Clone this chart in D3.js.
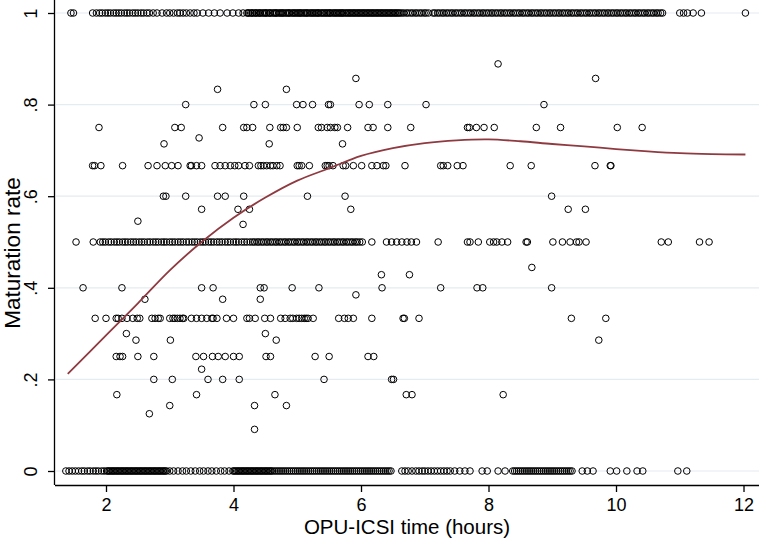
<!DOCTYPE html>
<html>
<head>
<meta charset="utf-8">
<script src="https://cdn.jsdelivr.net/npm/d3@7"></script>
<style>
  html, body { margin: 0; padding: 0; background: #fff; }
  svg { display: block; }
  text { font-family: "Liberation Sans", Arial, Helvetica, sans-serif; fill: #000; }
</style>
</head>
<body>
<svg id="chart" width="759" height="538"></svg>
<script>
// ---- Data: OPU-ICSI time (hours) grouped by observed maturation rate ----
const t100 = [1.45,1.49,1.79,1.85,1.90,1.94,1.99,2.03,2.07,2.12,2.16,2.20,2.24,2.29,2.33,2.37,2.42,2.46,2.50,2.55,2.59,2.64,2.68,
  2.74,2.80,2.88,2.95,3.00,3.06,3.12,3.16,3.21,3.26,3.32,3.38,3.43,3.52,3.61,3.70,3.79,3.90,3.99,4.08,4.15,
  4.21,4.23,4.24,4.27,4.29,4.30,4.33,4.35,4.36,4.39,4.41,4.42,4.45,4.47,4.49,4.51,4.52,4.55,4.57,4.58,4.61,4.63,4.65,4.67,4.68,4.71,
  4.73,4.75,4.77,4.78,4.81,4.83,4.85,4.87,4.88,4.91,4.93,4.95,4.97,4.99,5.01,5.03,5.05,5.06,5.09,5.11,5.13,5.15,5.16,5.19,5.21,5.23,
  5.25,5.27,5.29,5.31,5.33,5.34,5.37,5.39,5.41,5.43,5.45,5.47,5.49,5.51,5.52,5.55,5.57,5.59,5.61,5.63,5.65,5.67,5.69,5.71,5.72,5.75,
  5.77,5.79,5.81,5.83,5.85,5.87,5.89,5.91,5.93,5.95,5.97,5.99,6.01,6.03,6.05,6.07,6.09,6.11,6.13,6.15,6.17,6.19,6.21,6.23,6.25,6.27,
  6.29,6.31,6.33,6.35,6.37,6.39,6.41,6.43,6.45,6.47,6.49,6.51,6.53,6.55,6.57,6.59,6.61,
  6.64,6.67,6.71,6.74,6.78,6.81,6.85,6.88,6.92,6.95,6.99,7.02,7.06,7.13,7.16,7.20,7.23,7.27,7.30,7.34,7.37,7.41,7.44,7.48,7.51,7.55,
  7.58,7.62,7.65,7.69,7.72,7.76,7.79,7.83,7.86,7.90,7.93,7.97,8.00,8.04,8.07,8.11,8.14,8.18,8.21,8.25,8.28,8.32,8.35,8.39,8.42,8.46,
  8.49,8.53,8.56,8.60,8.63,8.67,8.70,8.74,8.77,8.81,8.84,8.88,8.91,8.95,8.98,9.02,9.05,9.09,9.12,9.16,9.19,9.23,9.26,9.30,9.33,9.37,
  9.40,9.44,9.47,9.51,9.54,9.58,9.61,9.65,9.68,9.72,9.75,9.79,9.82,9.86,9.89,9.93,9.96,10.00,10.03,10.07,10.10,10.14,10.17,10.21,
  10.24,10.28,10.31,10.35,10.38,10.42,10.45,10.49,10.52,10.56,10.59,10.63,10.66,10.70,10.73,
  11.00,11.06,11.12,11.21,11.34,12.03];
const t089 = [8.15];
const t086 = [5.92, 9.68];
const t083 = [3.75, 4.83];
const t080 = [3.25,4.32,4.50,4.99,5.09,5.24,5.49,5.52,5.97,6.13,6.42,7.02,8.87];
const t075 = [1.89,3.08,3.18,3.83,4.16,4.21,4.30,4.57,4.74,4.78,4.83,5.00,5.33,5.38,5.47,5.52,5.59,5.63,5.79,6.11,6.19,6.42,6.78,
  7.67,7.70,7.81,7.93,8.09,8.75,9.13,10.02,10.41];
const t073 = [3.46];
const t071 = [2.91, 4.56, 5.71];
const t067 = [1.79,1.82,1.92,2.26,2.66,2.80,2.93,3.03,3.13,3.32,3.34,3.42,3.50,3.71,3.79,3.87,3.95,4.02,4.08,4.18,4.25,4.39,4.43,
  4.47,4.52,4.58,4.62,4.68,4.73,5.00,5.03,5.07,5.19,5.44,5.47,5.50,5.56,5.72,5.76,5.88,6.01,6.17,6.25,6.35,6.39,6.69,
  7.25,7.29,7.36,7.51,7.60,8.34,8.67,9.67,9.91,9.92];
const t060 = [2.90,2.94,3.25,3.75,3.87,4.16,5.16,5.75,8.99];
const t057 = [3.50,4.07,4.25,5.84,9.25,9.52];
const t055 = [2.50];
const t054 = [4.15];
const t050 = [1.53,1.80,1.91,1.95,1.99,2.04,2.08,2.13,2.17,2.21,2.26,2.30,2.34,2.39,2.43,2.47,2.52,2.56,2.60,2.65,2.69,2.74,2.78,
  2.82,2.87,2.91,2.95,3.00,3.04,3.08,3.13,3.17,3.21,3.26,3.30,3.35,3.39,3.43,3.48,3.52,3.56,3.61,3.65,3.69,3.74,3.78,3.82,3.87,3.91,
  3.95,4.00,4.04,4.08,4.13,4.17,4.21,4.26,4.30,4.33,4.37,4.40,4.44,4.47,4.51,4.54,4.58,4.61,4.65,4.68,4.72,4.75,4.79,4.82,4.86,4.89,
  4.93,4.96,5.00,5.03,5.07,5.10,5.14,5.17,5.21,5.24,5.28,5.31,5.35,5.38,5.42,5.45,5.49,5.52,5.56,5.59,5.63,5.66,5.70,5.73,5.77,5.80,
  5.84,5.87,5.91,5.94,5.98,6.02,6.17,6.40,6.48,6.56,6.64,6.72,6.79,6.87,7.21,7.67,7.71,7.84,8.02,8.08,8.13,8.21,8.30,8.59,8.61,
  9.01,9.16,9.28,9.38,9.42,9.53,10.71,10.82,11.31,11.46];
const t044 = [8.68];
const t043 = [6.32, 6.76];
const t040 = [1.64,2.25,3.50,3.68,4.42,4.48,4.92,5.34,6.33,7.25,7.82,7.91,8.99];
const t038b = [5.92];
const t038 = [2.61, 3.83, 4.42];
const t033 = [1.83,2.00,2.16,2.19,2.25,2.33,2.42,2.49,2.53,2.72,2.77,2.82,2.85,3.00,3.05,3.08,3.12,3.16,3.20,3.22,3.34,3.42,3.50,
  3.58,3.66,3.68,3.74,3.89,4.00,4.21,4.25,4.34,4.49,4.58,4.74,4.81,4.89,4.93,4.99,5.03,5.07,5.11,5.14,5.17,5.25,5.65,5.74,5.80,
  5.88,6.17,6.66,6.68,6.91,9.30,9.84];
const t030 = [2.32, 4.50];
const t029 = [2.47, 3.01, 4.67, 9.73];
const t025 = [2.16,2.22,2.26,2.50,2.75,3.41,3.53,3.67,3.76,3.87,4.00,4.09,4.51,4.58,5.28,5.50,6.11,6.20];
const t022 = [3.50];
const t020 = [2.75,3.04,3.60,3.83,4.09,5.42,6.48,6.51];
const t017 = [2.17,3.42,4.65,6.71,6.80,8.23];
const t014 = [3.00,4.33,4.83];
const t013 = [2.68];
const t009 = [4.33];
const t000 = [1.37,1.42,1.47,1.52,1.57,1.62,1.66,1.71,1.75,1.80,1.84,1.88,1.93,1.97,2.01,
  2.03,2.05,2.07,2.09,2.11,2.13,2.15,2.17,2.19,2.21,2.23,2.25,2.27,2.29,2.31,2.33,2.35,2.37,2.39,2.41,2.43,2.45,2.47,2.49,2.51,2.53,
  2.55,2.57,2.59,2.61,2.63,2.65,2.67,2.69,2.71,2.73,2.75,2.77,2.79,2.81,2.83,2.85,2.87,2.89,2.91,2.93,2.95,
  3.00,3.06,3.13,3.20,3.26,3.33,3.40,3.47,3.53,3.60,3.66,3.73,3.80,3.86,3.93,
  3.99,4.01,4.03,4.05,4.07,4.09,4.11,4.13,4.15,4.17,4.19,4.21,4.23,4.25,4.27,4.29,4.31,4.33,4.35,4.37,4.39,4.41,4.43,4.45,4.47,4.49,
  4.51,4.53,4.55,4.57,4.59,4.61,
  4.64,4.67,4.70,4.73,4.76,4.79,4.82,4.85,4.88,4.91,4.94,4.97,5.00,5.03,5.06,5.09,5.12,5.15,5.18,5.21,5.24,5.27,5.30,5.33,5.36,5.39,
  5.42,5.45,5.48,5.51,5.54,5.57,5.60,5.63,5.66,5.69,5.72,5.75,5.78,5.81,5.84,5.87,5.90,5.93,5.96,5.99,6.02,6.05,6.08,6.11,6.14,6.17,
  6.20,6.23,6.26,6.29,6.32,6.35,6.38,6.41,6.44,6.47,
  6.64,6.69,6.74,6.80,6.86,6.91,6.96,7.00,7.05,7.10,7.15,7.20,7.25,7.30,7.35,7.40,7.47,7.55,7.63,7.71,7.90,7.98,8.15,8.26,
  8.38,8.41,8.44,8.47,8.50,8.53,8.56,8.59,8.62,8.65,8.68,8.71,8.74,8.77,8.80,8.83,8.86,8.89,8.92,8.95,8.98,9.01,9.04,9.07,9.10,9.13,
  9.16,9.19,9.22,9.25,9.28,9.31,
  9.47,9.55,9.64,9.91,10.01,10.17,10.33,10.42,10.97,11.11];

const rateLevels = [1, 8/9, 6/7, 5/6, 0.8, 0.75, 8/11, 5/7, 2/3, 0.6, 4/7, 6/11, 7/13, 0.5, 4/9, 3/7, 0.4, 5/13, 3/8,
  1/3, 0.3, 2/7, 0.25, 2/9, 0.2, 1/6, 1/7, 1/8, 1/11, 0];
const timeGroups = [t100, t089, t086, t083, t080, t075, t073, t071, t067, t060, t057, t055, t054, t050, t044, t043, t040, t038b, t038,
  t033, t030, t029, t025, t022, t020, t017, t014, t013, t009, t000];

// Lowess smoother
const lowessX = [1.40, 2.0, 2.5, 3.0, 3.5, 4.0, 4.5, 5.0, 5.5, 6.0, 6.5, 7.0, 7.5, 8.0, 8.5, 9.0, 9.5, 10.0, 10.5, 11.0, 11.5, 12.03];
const lowessY = [0.212, 0.296, 0.366, 0.438, 0.500, 0.553, 0.597, 0.634, 0.661, 0.688, 0.705, 0.716, 0.722, 0.724, 0.720, 0.714, 0.709, 0.703, 0.698, 0.694, 0.692, 0.691];

const xTicks = [2, 4, 6, 8, 10, 12];
const yTicks = [0, 0.2, 0.4, 0.6, 0.8, 1];
const yTickLabels = ["0", ".2", ".4", ".6", ".8", "1"];
const xTitle = "OPU-ICSI time (hours)";
const yTitle = "Maturation rate";

// ---- Build ----
const points = [];
rateLevels.forEach((r, i) => timeGroups[i].forEach(t => points.push({ t, r })));

const svg = d3.select("#chart");
const plotLeft = 55, plotRight = 759, plotTop = 0, plotBottom = 485;

const x = d3.scaleLinear().domain([1.2, 12.243]).range([plotLeft, plotRight]);
const y = d3.scaleLinear().domain([0, 1]).range([471, 13]);

// grid lines
svg.append("g")
  .selectAll("line")
  .data(yTicks)
  .join("line")
  .attr("x1", plotLeft + 1).attr("x2", plotRight)
  .attr("y1", d => y(d)).attr("y2", d => y(d))
  .attr("stroke", "#e4ecef").attr("stroke-width", 1.2);

// points
svg.append("g")
  .selectAll("circle")
  .data(points)
  .join("circle")
  .attr("cx", d => x(d.t))
  .attr("cy", d => y(d.r))
  .attr("r", 3.3)
  .attr("fill", "none")
  .attr("stroke", "#000")
  .attr("stroke-width", 1);

// lowess line
const lw = lowessX.map((v, i) => [v, lowessY[i]]);
svg.append("path")
  .datum(lw)
  .attr("d", d3.line().x(d => x(d[0])).y(d => y(d[1])).curve(d3.curveCatmullRom.alpha(0.5)))
  .attr("fill", "none")
  .attr("stroke", "#8f3a40")
  .attr("stroke-width", 1.8);

// axes
const xAxis = d3.axisBottom(x).tickValues(xTicks).tickSize(7).tickPadding(6).tickSizeOuter(0).tickFormat(d3.format("d"));
const gx = svg.append("g").attr("transform", `translate(0,${plotBottom})`).call(xAxis);
gx.select(".domain").attr("d", `M${plotLeft},0.5H${plotRight}`).attr("stroke", "#000").attr("stroke-width", 1.3);
gx.selectAll(".tick line").attr("stroke", "#000").attr("stroke-width", 1.3);
gx.selectAll(".tick text").attr("font-size", 18).attr("font-family", "Liberation Sans, Arial, sans-serif")
  .attr("dy", null).attr("y", 26);

const yAxis = d3.axisLeft(y).tickValues(yTicks).tickSize(7).tickSizeOuter(0).tickFormat((d, i) => yTickLabels[i]);
const gy = svg.append("g").attr("transform", `translate(${plotLeft},0)`).call(yAxis);
gy.select(".domain").attr("d", `M-0.5,${plotTop}V${plotBottom}`).attr("stroke", "#000").attr("stroke-width", 1.3);
gy.selectAll(".tick line").attr("stroke", "#000").attr("stroke-width", 1.3);
gy.selectAll(".tick text")
  .attr("font-size", 18).attr("font-family", "Liberation Sans, Arial, sans-serif")
  .attr("x", null).attr("dy", null)
  .attr("text-anchor", "middle")
  .attr("transform", "translate(-18,0) rotate(-90)");

// titles
svg.append("text")
  .attr("x", (plotLeft + plotRight) / 2).attr("y", 534)
  .attr("text-anchor", "middle").attr("font-size", 20.5)
  .text(xTitle);
svg.append("text")
  .attr("transform", `translate(20,253) rotate(-90)`)
  .attr("text-anchor", "middle").attr("font-size", 22.5)
  .text(yTitle);
</script>
</body>
</html>
